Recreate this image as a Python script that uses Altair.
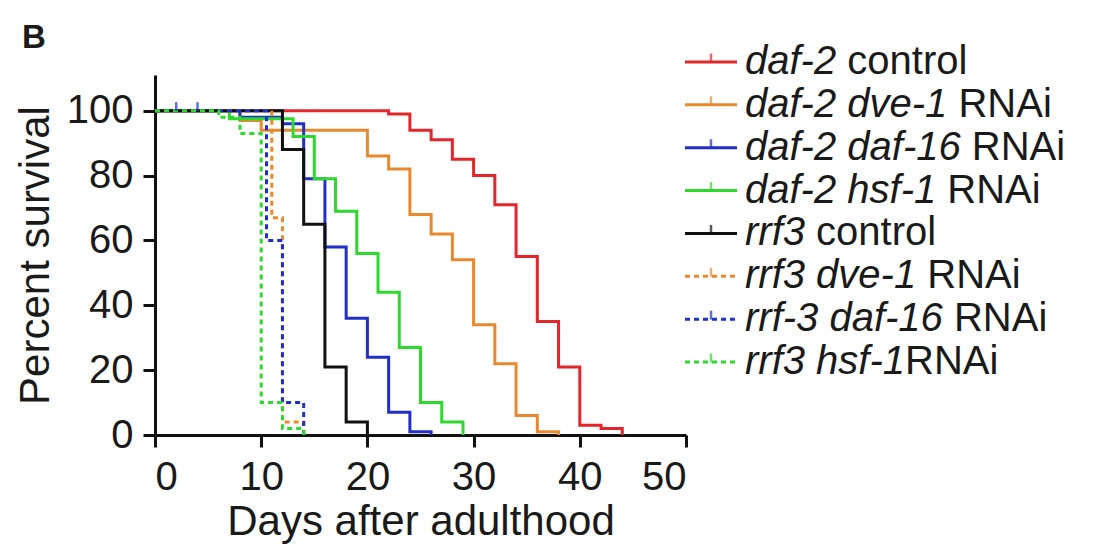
import altair as alt
import pandas as pd

# ---------------- data ----------------
series = ["daf-2 control", "daf-2 dve-1 RNAi", "daf-2 daf-16 RNAi", "daf-2 hsf-1 RNAi",
          "rrf3 control", "rrf3 dve-1 RNAi", "rrf-3 daf-16 RNAi", "rrf3 hsf-1RNAi"]
colors = ["#E3262B", "#E8892F", "#1F2FC8", "#2ED82E", "#111111", "#E8892F", "#1F2FC8", "#2ED82E"]
dashed = [False, False, False, False, False, True, True, True]

label_italic = ["daf-2", "daf-2 dve-1", "daf-2 daf-16", "daf-2 hsf-1",
                "rrf3", "rrf3 dve-1", "rrf-3 daf-16", "rrf3 hsf-1"]
label_plain = [" control", " RNAi", " RNAi", " RNAi", " control", " RNAi", " RNAi", "RNAi"]

days_daf2_control = [0, 22, 24, 26, 28, 30, 32, 34, 36, 38, 40, 42, 44]
surv_daf2_control = [100, 99, 94, 91, 85, 80, 71, 55, 35, 21, 3, 2, 0]
days_daf2_dve1 = [0, 8, 10, 20, 22, 24, 26, 28, 30, 32, 34, 36, 38]
surv_daf2_dve1 = [100, 97, 94, 86, 82, 68, 62, 54, 34, 22, 6, 1, 0]
days_daf2_daf16 = [0, 8, 12, 14, 16, 18, 20, 22, 24, 26]
surv_daf2_daf16 = [100, 98, 96, 79, 58, 36, 24, 7, 1, 0]
days_daf2_hsf1 = [0, 7, 13, 15, 17, 19, 21, 23, 25, 27, 29]
surv_daf2_hsf1 = [100, 97.5, 92, 79, 69, 56, 44, 27, 10, 4, 0]
days_rrf3_control = [0, 12, 14, 16, 18, 20]
surv_rrf3_control = [100, 88, 65, 21, 4, 0]
days_rrf3_dve1 = [0, 11, 12, 14]
surv_rrf3_dve1 = [100, 67, 4, 0]
days_rrf3_daf16 = [0, 10.5, 12, 14]
surv_rrf3_daf16 = [100, 60, 10, 0]
days_rrf3_hsf1 = [0, 6, 8, 10, 12, 14]
surv_rrf3_hsf1 = [100, 98, 93, 10, 2, 0]

censor_series = ["rrf-3 daf-16 RNAi", "rrf-3 daf-16 RNAi"]
censor_days = [2, 4]
censor_surv = [100, 100]

x_ticks = [0, 10, 20, 30, 40, 50]
y_ticks = [0, 20, 40, 60, 80, 100]

# ---------------- tables ----------------
all_days = [days_daf2_control, days_daf2_dve1, days_daf2_daf16, days_daf2_hsf1,
            days_rrf3_control, days_rrf3_dve1, days_rrf3_daf16, days_rrf3_hsf1]
all_surv = [surv_daf2_control, surv_daf2_dve1, surv_daf2_daf16, surv_daf2_hsf1,
            surv_rrf3_control, surv_rrf3_dve1, surv_rrf3_daf16, surv_rrf3_hsf1]
rows = []
for name, dsh, ds, ss in zip(series, dashed, all_days, all_surv):
    for d, s in zip(ds, ss):
        rows.append({"series": name, "day": d, "surv": s, "dashed": dsh})
df = pd.DataFrame(rows)
cdf = pd.DataFrame({"series": censor_series, "day": censor_days, "surv": censor_surv})

FONT = "Liberation Sans"
LEG_FS = 40
# Arial / Liberation Sans advance widths (per 1000 em)
W = {'a': 556, 'c': 500, 'd': 556, 'e': 556, 'f': 278, 'h': 556, 'i': 222, 'l': 222,
     'n': 556, 'o': 556, 'r': 333, 's': 500, 't': 278, 'v': 500, '-': 333, ' ': 278,
     'R': 722, 'N': 722, 'A': 667}


def text_w(s):
    return sum(W.get(ch, 556) for ch in s) / 1000.0 * LEG_FS


LEG_TEXT_X = 590
seg_rows = []
for i, (it, pl) in enumerate(zip(label_italic, label_plain)):
    seg_rows.append({"row": i, "txt": it, "xpix": LEG_TEXT_X, "italic": True})
    seg_rows.append({"row": i, "txt": pl.strip(),
                     "xpix": LEG_TEXT_X + text_w(it + (" " if pl.startswith(" ") else "")),
                     "italic": False})
seg_df = pd.DataFrame(seg_rows)
leg_df = pd.DataFrame({"series": series, "row": list(range(len(series))), "dashed": dashed})

# ---------------- main plot ----------------
color = alt.Color("series:N", scale=alt.Scale(domain=series, range=colors), legend=None)
x_enc = alt.X("day:Q", scale=alt.Scale(domain=[0, 50], nice=False),
              axis=alt.Axis(values=x_ticks, title="Days after adulthood", tickSize=12,
                            labelPadding=10, titlePadding=4, format="d"))
y_enc = alt.Y("surv:Q", scale=alt.Scale(domain=[0, 111], nice=False),
              axis=alt.Axis(values=y_ticks, title="Percent survival", tickSize=12,
                            labelPadding=10, titlePadding=9, format="d"))

base = alt.Chart(df).encode(x=x_enc, y=y_enc, color=color, detail="series:N")
solid = base.transform_filter("!datum.dashed").mark_line(interpolate="step-after", strokeWidth=3)
dash = base.transform_filter("datum.dashed").mark_line(interpolate="step-after", strokeWidth=3,
                                                       strokeDash=[5, 4])
censor = alt.Chart(cdf).mark_tick(orient="vertical", size=9, thickness=2.5, yOffset=-4).encode(
    x=x_enc, y=y_enc, color=color)
main = alt.layer(solid, dash, censor)

# ---------------- legend ----------------
row_y = alt.Y("row:Q", scale=alt.Scale(domain=[0, 7], range=[-13, 287]), axis=None)
leg_solid = alt.Chart(leg_df).transform_filter("!datum.dashed").mark_rule(strokeWidth=3).encode(
    x=alt.value(530), x2=alt.value(582), y=row_y, color=color)
leg_dash = alt.Chart(leg_df).transform_filter("datum.dashed").mark_rule(strokeWidth=3, strokeDash=[5, 4]).encode(
    x=alt.value(530), x2=alt.value(582), y=row_y, color=color)
leg_tick = alt.Chart(leg_df).mark_tick(orient="vertical", size=9, thickness=2.5, yOffset=-4).encode(
    x=alt.value(556), y=row_y, color=color)
leg_it = alt.Chart(seg_df).transform_filter("datum.italic").mark_text(
    align="left", baseline="middle", font=FONT, fontSize=LEG_FS, fontStyle="italic", color="#1a1a1a").encode(
    x=alt.X("xpix:Q", scale=None, axis=None), y=row_y, text="txt:N")
leg_pl = alt.Chart(seg_df).transform_filter("!datum.italic").mark_text(
    align="left", baseline="middle", font=FONT, fontSize=LEG_FS, color="#1a1a1a").encode(
    x=alt.X("xpix:Q", scale=None, axis=None), y=row_y, text="txt:N")
panel = alt.Chart(pd.DataFrame({"t": ["B"]})).mark_text(
    align="left", baseline="alphabetic", font=FONT, fontSize=33, fontWeight="bold", color="#1a1a1a").encode(
    x=alt.value(-133), y=alt.value(-27), text="t:N")
legend = alt.layer(leg_solid, leg_dash, leg_tick, leg_it, leg_pl, panel)

chart = alt.layer(main, legend).resolve_scale(x="independent", y="independent").properties(
    width=531, height=360,
    padding={"left": 147, "top": 67, "right": 400, "bottom": 110},
    autosize=alt.AutoSizeParams(type="none"),
).configure_axis(
    grid=False, domainColor="#111111", domainWidth=3, tickColor="#111111", tickWidth=3,
    labelFont=FONT, labelFontSize=40, labelColor="#1a1a1a",
    titleFont=FONT, titleFontSize=42, titleFontWeight="normal", titleColor="#1a1a1a",
).configure_view(stroke=None)

chart.save("out.html", embed_options={"renderer": "svg", "actions": False})
